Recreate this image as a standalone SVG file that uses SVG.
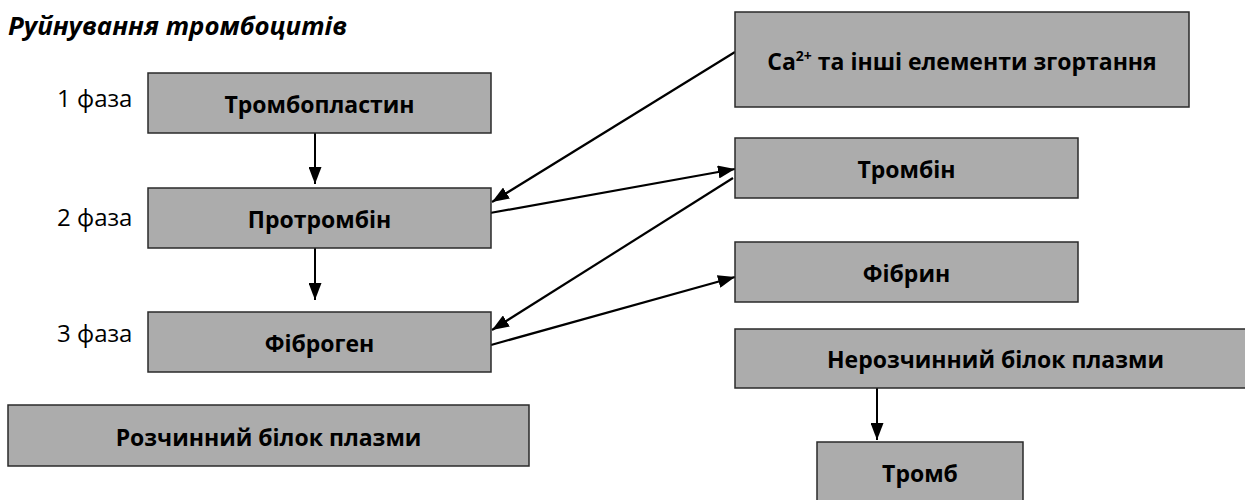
<svg xmlns="http://www.w3.org/2000/svg" width="1245" height="500" viewBox="0 0 1245 500">
<style>
.box{fill:#acacac;stroke:#2a2a2a;stroke-width:1.5}
.t{font-family:"Open Sans","Liberation Sans",sans-serif;font-weight:bold;font-size:23px;fill:#000;text-anchor:middle}
.ph{font-family:"Open Sans","Liberation Sans",sans-serif;font-size:24px;fill:#000}
.title{font-family:"Open Sans","Liberation Sans",sans-serif;font-weight:bold;font-style:italic;font-size:25px;fill:#000}
.c{stroke:#000;stroke-width:2.2;fill:none}
.v{stroke:#000;stroke-width:2;fill:none}
</style>
<defs>
<marker id="ah" markerUnits="userSpaceOnUse" markerWidth="17" markerHeight="13" refX="17" refY="6.5" orient="auto">
<path d="M0,0 L17,6.5 L0,13 z" fill="#000"/>
</marker>
</defs>
<rect width="1245" height="500" fill="#fff"/>
<text class="title" x="8" y="35" textLength="339" lengthAdjust="spacingAndGlyphs">Руйнування тромбоцитів</text>
<text class="ph" x="57" y="107">1 фаза</text>
<text class="ph" x="57" y="226">2 фаза</text>
<text class="ph" x="57" y="342">3 фаза</text>

<g id="connectors">
<line class="v" x1="315" y1="133" x2="315" y2="184" marker-end="url(#ah)"/>
<line class="v" x1="315" y1="248" x2="315" y2="300" marker-end="url(#ah)"/>
<line class="v" x1="877" y1="388" x2="877" y2="440" marker-end="url(#ah)"/>
<line class="c" x1="735" y1="52" x2="492" y2="202" marker-end="url(#ah)"/>
<line class="c" x1="490" y1="213" x2="735" y2="169" marker-end="url(#ah)"/>
<line class="c" x1="733" y1="178" x2="492" y2="330" marker-end="url(#ah)"/>
<line class="c" x1="491" y1="345" x2="735" y2="277" marker-end="url(#ah)"/>
</g>

<g id="n-tromboplastyn"><rect class="box" x="148" y="73" width="343" height="60"/><text class="t" x="319.5" y="113">Тромбопластин</text></g>
<g id="n-protrombin"><rect class="box" x="148" y="188" width="343" height="60"/><text class="t" x="319.5" y="228">Протромбін</text></g>
<g id="n-fibrogen"><rect class="box" x="148" y="312" width="343" height="60"/><text class="t" x="319.5" y="352">Фіброген</text></g>
<g id="n-rozchynnyi"><rect class="box" x="8" y="405" width="521" height="61"/><text class="t" x="268.5" y="446">Розчинний білок плазми</text></g>
<g id="n-ca"><rect class="box" x="735" y="12" width="454" height="95"/><text class="t" x="962" y="70">Ca<tspan font-size="14" dy="-9">2+</tspan><tspan dy="9"> та інші елементи згортання</tspan></text></g>
<g id="n-trombin"><rect class="box" x="735" y="138" width="343" height="60"/><text class="t" x="906.5" y="178">Тромбін</text></g>
<g id="n-fibryn"><rect class="box" x="735" y="242" width="343" height="60"/><text class="t" x="906.5" y="282">Фібрин</text></g>
<g id="n-nerozchynnyi"><rect class="box" x="735" y="329" width="522" height="59"/><text class="t" x="995.5" y="368">Нерозчинний білок плазми</text></g>
<g id="n-tromb"><rect class="box" x="817" y="442" width="206" height="62"/><text class="t" x="920" y="482">Тромб</text></g>
</svg>
